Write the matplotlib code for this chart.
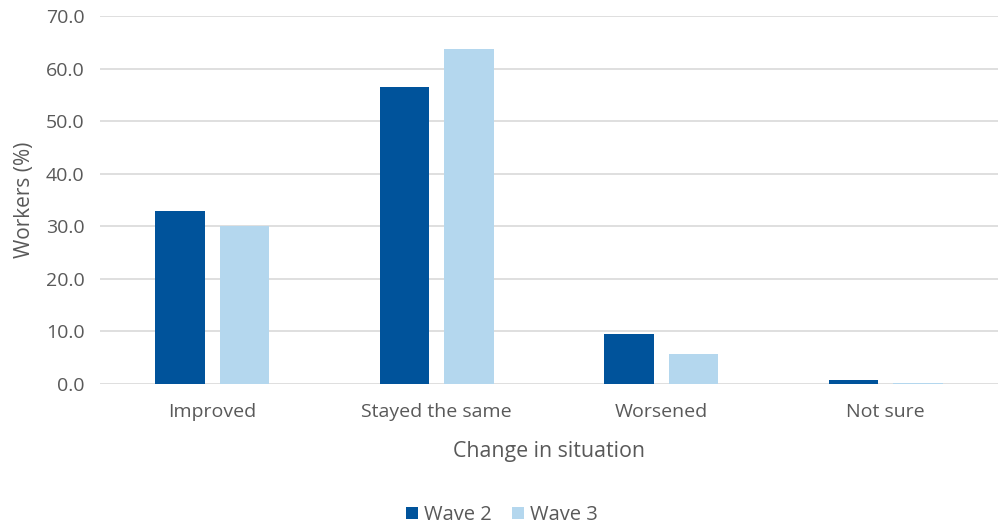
import numpy as np
import matplotlib

matplotlib.use('Agg')

import matplotlib.pyplot as plt

# survey responses, share of workers by change in situation
categories = ["Improved", "Stayed the same", "Worsened", "Not sure"]
wave2 = [32.9, 56.4, 9.5, 0.7]
wave3 = [30.1, 63.7, 5.7, 0.2]
series_names = ["Wave 2", "Wave 3"]

dark_blue = "#00539B"
light_blue = "#B4D7EE"
text_grey = "#595959"

plt.rcParams['font.family'] = ['Open Sans', 'DejaVu Sans']

fig = plt.figure(figsize=(9.98, 5.29), dpi=100)
ax = fig.add_axes([100 / 998, 1 - 384 / 529, 898 / 998, 368 / 529])

x = np.arange(len(categories))
width = 0.22
offset = 0.143

ax.bar(x - offset, wave2, width, color=dark_blue, label=series_names[0], zorder=3)
ax.bar(x + offset, wave3, width, color=light_blue, label=series_names[1], zorder=3)

ax.set_xlim(-0.5, len(categories) - 0.5)
ax.set_ylim(0, 70)
ax.set_yticks(np.arange(0, 71, 10))
ax.set_yticklabels([f"{v:.1f}" for v in np.arange(0, 71, 10)])
ax.set_xticks(x)
ax.set_xticklabels(categories)

# gridlines only, no frame
ax.grid(axis='y', color='#D9D9D9', linewidth=1.2, zorder=0)
for s in ax.spines.values():
    s.set_visible(False)
ax.tick_params(axis='both', length=0, labelsize=14, colors=text_grey)
ax.tick_params(axis='y', pad=11)
ax.tick_params(axis='x', pad=14)

ax.set_xlabel("Change in situation", fontsize=15.4, color=text_grey, labelpad=14)
ax.set_ylabel("Workers (%)", fontsize=15, color=text_grey, labelpad=8)

leg = fig.legend(loc='center', bbox_to_anchor=(502 / 998, 1 - 515 / 529), ncol=2,
                 frameon=False, fontsize=14.5, handlelength=0.6, handleheight=0.6,
                 handletextpad=0.3, columnspacing=1.0, labelcolor=text_grey)

plt.savefig("out.png", dpi=100)
